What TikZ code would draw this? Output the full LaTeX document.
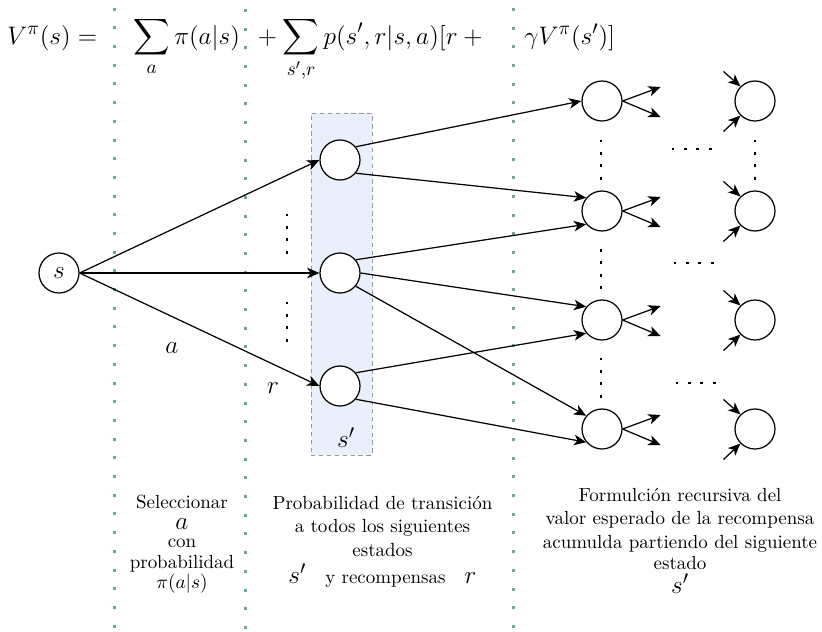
\documentclass[tikz,border=0pt]{standalone}
\usepackage{amsmath}
\usetikzlibrary{arrows.meta}
\definecolor{divcolor}{HTML}{67AB9F}
\definecolor{boxblue}{HTML}{E9F0FC}
\newcommand{\bigmath}[1]{{\fontsize{15}{13.3}\selectfont$#1$}}
\begin{document}
\begin{tikzpicture}[x=0.02cm, y=-0.02cm,
    state/.style={draw, circle, line width=0.7pt, minimum size=0.8cm, inner sep=0pt, fill=white},
    arr/.style={-{Stealth[length=7pt, width=6pt, inset=2pt]}, line width=0.7pt},
    divider/.style={divcolor, line width=1.7pt, dash pattern=on 1.7pt off 8.94pt},
    dotrow/.style={line width=1.6pt, dash pattern=on 1.6pt off 5.5pt},
    eq/.style={anchor=base west, inner sep=0pt, font=\fontsize{15.5}{18}\selectfont},
    lbl/.style={inner sep=0pt, font=\fontsize{15}{17}\selectfont},
    note/.style={anchor=north, inner sep=0pt, align=center, font=\fontsize{10.8}{13.3}\selectfont}
]
    \useasboundingbox (0,0) rectangle (822,632);

    % separators
    \draw[divider] (114.3,7.7) -- (114.3,632);
    \draw[divider] (245.7,9) -- (245.7,632);
    \draw[divider] (513.3,8) -- (513.3,632);

    % Bellman equation
    \node[eq] (eqv) at (7,44) {$V^{\pi}(s) =$};
    \node[eq] (eqsum) at (133,44) {$\displaystyle\sum_{a}\pi(a|s)$};
    \node[eq] (eqp) at (252,44) {${}+\displaystyle\sum_{s',r}p(s',r|s,a)[r+{}$};
    \node[eq] (eqg) at (524,44) {$\gamma V^{\pi}(s')]$};

    % next states
    \node[draw=gray!80, dash pattern=on 2.5pt off 2pt, fill=boxblue, minimum width=1.22cm, minimum height=6.84cm] (box) at (341.5,284) {};
    \node[lbl] (sp) at (346,438) {$s'$};

    \node[state, font=\fontsize{15}{17}\selectfont] (s) at (59,273) {$s$};
    \node[state] (m1) at (340,160) {};
    \node[state] (m2) at (340,273) {};
    \node[state] (m3) at (340,386) {};

    \foreach \i/\y in {1/101, 2/211, 3/320, 4/429} {
        \node[state] (r\i) at (602,\y) {};
        \node[state] (f\i) at (755,\y) {};
        \path (r\i.east) ++(38,-14) coordinate (ru\i);
        \path (r\i.east) ++(38,16) coordinate (rd\i);
        \path (f\i.135) ++(-17,-15) coordinate (fu\i);
        \path (f\i.225) ++(-17,16) coordinate (fd\i);
        \draw[arr] (r\i.east) -- (ru\i);
        \draw[arr] (r\i.east) -- (rd\i);
        \draw[arr] (fu\i) -- (f\i.135);
        \draw[arr] (fd\i) -- (f\i.225);
    }

    % actions
    \draw[arr] (s.east) -- (m1.west);
    \draw[arr] (s.east) -- (m2.west);
    \draw[arr] (s.east) -- (m3.west);
    \node[lbl] (a) at (172,348) {$a$};
    \node[lbl] (r) at (273,388) {$r$};

    % transitions
    \draw[arr] (m1.40) -- (r1.west);
    \draw[arr] (m1.-40) -- (r2.140);
    \draw[arr] (m2.40) -- (r2.220);
    \draw[arr] (m2.east) -- (r3.140);
    \draw[arr] (m2.-40) -- (r4.140);
    \draw[arr] (m3.40) -- (r3.220);
    \draw[arr] (m3.-40) -- (r4.220);

    % dots
    \draw[dotrow] (287,213.5) -- (287,254.5);
    \draw[dotrow] (287,301.5) -- (287,342.5);
    \draw[dotrow] (601,139.5) -- (601,180.5);
    \draw[dotrow] (601,249) -- (601,290);
    \draw[dotrow] (601,357.5) -- (601,398.5);
    \draw[dotrow] (755,139.5) -- (755,180.5);
    \draw[dotrow] (671.5,149) -- (712.5,149);
    \draw[dotrow] (673.5,263) -- (714.5,263);
    \draw[dotrow] (675.5,383) -- (716.5,383);

    % captions
    \node[note] (sel) at (182,495) {Seleccionar\\[-1.5pt] \bigmath{a}\\[-3.1pt] con\\[-1.4pt] probabilidad\\[-1.6pt] $\pi(a|s)$};
    \node[note] (prob) at (382.5,496) {Probabilidad de transición\\ a todos los siguientes\\ estados\\[2pt] \bigmath{s'}\quad y recompensas\quad \bigmath{r}};
    \node[note] (rec) at (680,488) {Formulción recursiva del\\ valor esperado de la recompensa\\ acumulda partiendo del siguiente\\[-1pt] estado\\ \bigmath{s'}};
\end{tikzpicture}
\end{document}
